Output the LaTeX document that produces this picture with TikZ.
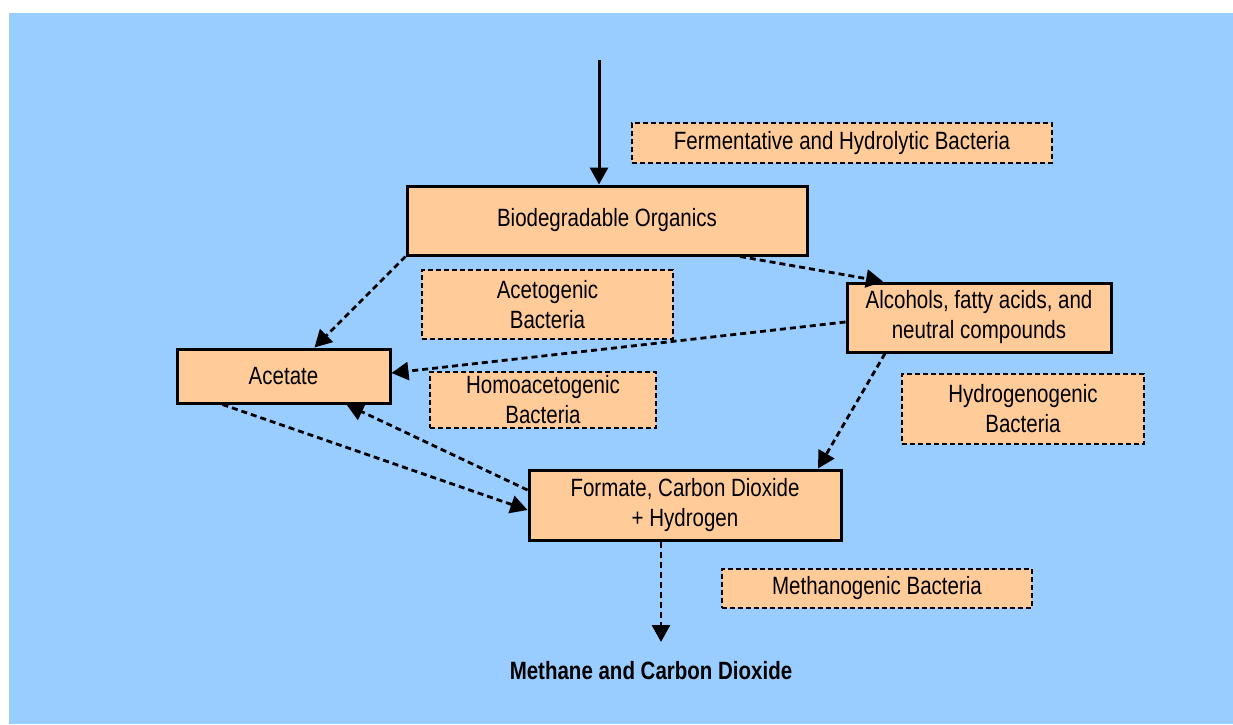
\documentclass[tikz,border=0pt]{standalone}
\usepackage{fontspec}
\setmainfont{Liberation Sans}[FakeStretch=0.82]
\usetikzlibrary{arrows.meta}
\definecolor{skyback}{HTML}{99CCFF}
\definecolor{peach}{HTML}{FFCC99}
\begin{document}
\begin{tikzpicture}[x=1pt,y=-1pt,
  font=\fontsize{25}{30}\selectfont,
  stagebox/.style={draw=black, fill=peach, line width=3pt, inner sep=0pt, align=center},
  microbebox/.style={draw=black, fill=peach, line width=2.8pt, dash pattern=on 5pt off 3pt, inner sep=0pt, align=center},
  flow/.style={line width=2.8pt, dash pattern=on 6pt off 4pt, -{Triangle[length=17pt,width=18pt]}},
  feed/.style={line width=3pt, -{Triangle[length=17pt,width=18pt]}}]
\useasboundingbox (0,0) rectangle (1233,724);
\fill[white] (0,0) rectangle (1233,724);
\fill[skyback] (9,13) rectangle (1233,724);

% substrates and products
\node[stagebox, minimum width=400pt, minimum height=69pt] (bio) at (607,220.5) {Biodegradable Organics};
\node[stagebox, minimum width=264pt, minimum height=69pt] (alc) at (979,317.5) {Alcohols, fatty acids, and\\neutral compounds};
\node[stagebox, minimum width=213pt, minimum height=54pt] (acet) at (283.5,376) {Acetate};
\node[stagebox, minimum width=312pt, minimum height=70pt] (form) at (685,505) {Formate, Carbon Dioxide\\+ Hydrogen};
\node[font=\fontsize{25}{30}\selectfont\bfseries] (meth) at (651,671) {Methane and Carbon Dioxide};

% bacterial groups
\node[microbebox, minimum width=420pt, minimum height=40pt] (ferm) at (842,143) {Fermentative and Hydrolytic Bacteria};
\node[microbebox, minimum width=251pt, minimum height=69pt] (aceto) at (547.5,304.5) {Acetogenic\\Bacteria};
\node[microbebox, minimum width=226pt, minimum height=56pt] (homo) at (543,400) {Homoacetogenic\\Bacteria};
\node[microbebox, minimum width=242pt, minimum height=70pt] (hydro) at (1023,409) {Hydrogenogenic\\Bacteria};
\node[microbebox, minimum width=310pt, minimum height=39pt] (metb) at (877,588.5) {Methanogenic Bacteria};

% connectors
\coordinate (src) at (599,60);
\coordinate (mtip) at (661,642);
\draw[feed] (src) -- (src |- bio.north);
\draw[flow] (bio.south west) -- ([xshift=31pt]acet.north);
\draw[flow] ([xshift=133pt]bio.south) -- ([xshift=-96pt]alc.north);
\draw[flow] ([yshift=-4.5pt]alc.west) -- ([yshift=3pt]acet.east);
\draw[flow] ([xshift=-94pt]alc.south) -- ([xshift=133pt]form.north);
\draw[flow] ([xshift=-61pt]acet.south) -- ([yshift=-5pt]form.west);
\draw[flow] ([yshift=15pt]form.west) -- ([xshift=63pt]acet.south);
\draw[flow] ([xshift=-24pt]form.south) -- (mtip);
\end{tikzpicture}
\end{document}
